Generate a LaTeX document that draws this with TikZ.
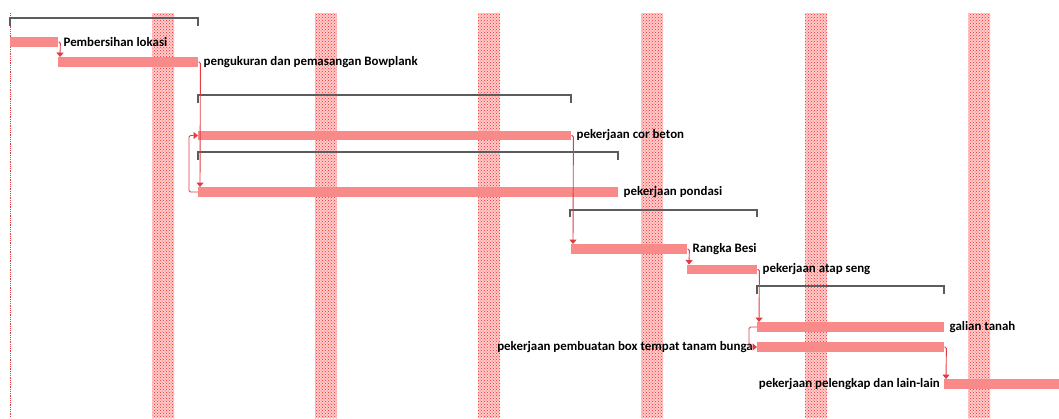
\documentclass[tikz,border=0pt]{standalone}
\usepackage{fontspec}
\setmainfont{Carlito}
\usepackage{xcolor}
\usetikzlibrary{arrows.meta, positioning, calc, patterns}

\definecolor{barpink}{HTML}{F88A8A}
\definecolor{linkred}{HTML}{E23B40}
\definecolor{sumgray}{HTML}{5C5C5C}

\begin{document}
\begin{tikzpicture}[x=1pt, y=-1pt,
  task/.style={fill=barpink, minimum height=9.5pt, inner sep=0pt, anchor=west},
  lbl/.style={font=\bfseries\fontsize{12.9}{15}\selectfont, inner sep=0pt},
  link/.style={draw=linkred, line width=0.9pt, rounded corners=1.5pt, -{Triangle[width=7pt,length=4.5pt]}},
  summary/.style={draw=sumgray, line width=2pt},
  weekend/.style={fill=red!20, postaction={pattern=crosshatch dots, pattern color=red!85}}]

\useasboundingbox (0,0) rectangle (1059,418);

% weekend stripes, one every 163.3 px
\foreach \x in {152,315,478,641,805,968}
  \fill[weekend] (\x,13) rectangle ++(22,405);

% left edge of the timescale
\draw[linkred, densely dotted, line width=0.8pt] (10,13) -- (10,418);

% summary brackets
\draw[summary] (10,26) -- (10,17.5) -- (198,17.5) -- (198,26);
\draw[summary] (198,103) -- (198,95) -- (571,95) -- (571,103);
\draw[summary] (198,160) -- (198,152) -- (618,152) -- (618,160);
\draw[summary] (570,217) -- (570,209.5) -- (757,209.5) -- (757,217);
\draw[summary] (757,294) -- (757,286) -- (944,286) -- (944,294);

% task bars (x = start, width = duration)
\node[task, minimum width=48pt]  (t1) at (10,42) {};
\node[task, minimum width=140pt] (t2) at (58,62) {};
\node[task, minimum width=373pt] (t3) at (198,135.5) {};
\node[task, minimum width=420pt] (t4) at (198,192) {};
\node[task, minimum width=116pt] (t5) at (571,249) {};
\node[task, minimum width=70pt]  (t6) at (687,269.5) {};
\node[task, minimum width=187pt] (t7) at (757,327) {};
\node[task, minimum width=187pt] (t8) at (757,347) {};
\node[task, minimum width=115pt] (t9) at (944,384) {};

% task names
\node[lbl, right=5pt of t1] (l1) {Pembersihan lokasi};
\node[lbl, right=5pt of t2] (l2) {pengukuran dan pemasangan Bowplank};
\node[lbl, right=5pt of t3] (l3) {pekerjaan cor beton};
\node[lbl, right=5pt of t4] (l4) {pekerjaan pondasi};
\node[lbl, right=5pt of t5] (l5) {Rangka Besi};
\node[lbl, right=5pt of t6] (l6) {pekerjaan atap seng};
\node[lbl, right=5pt of t7] (l7) {galian tanah};
\node[lbl, left=4pt of t8]  (l8) {pekerjaan pembuatan box tempat tanam bunga};
\node[lbl, left=4pt of t9]  (l9) {pekerjaan pelengkap dan lain-lain};

% dependency links
\draw[link] (t1.east) -- ++(2,0) -- ($(t2.north west)+(2,0)$);
\draw[link] (t2.east) -- ++(2,0) -- ($(t4.north west)+(2,0)$);
\draw[link] (t4.west) -- ++(-9,0) |- (t3.west);
\draw[link] (t3.east) -- ++(2,0) -- ($(t5.north west)+(2,0)$);
\draw[link] (t5.east) -- ++(2,0) -- ($(t6.north west)+(2,0)$);
\draw[link] (t6.east) -- ++(2,0) -- ($(t7.north west)+(2,0)$);
\draw[link] (t7.west) -- ++(-8,0) |- (t8.west);
\draw[link] (t8.east) -- ++(2,0) -- ($(t9.north west)+(2,0)$);

\end{tikzpicture}
\end{document}
